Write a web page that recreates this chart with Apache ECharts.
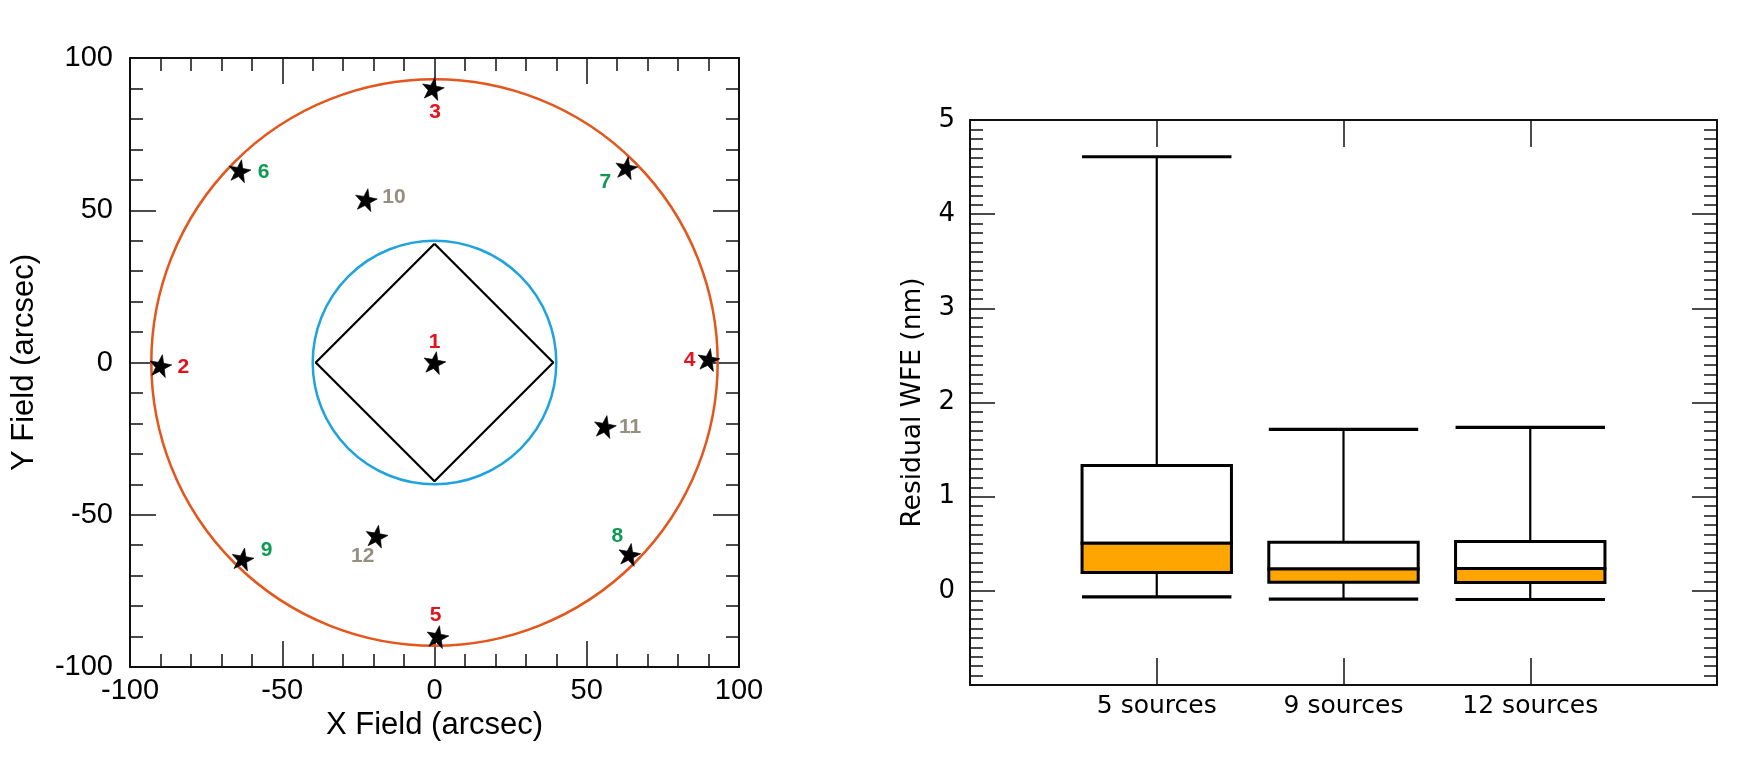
<!DOCTYPE html>
<html>
<head>
<meta charset="utf-8">
<script src="https://cdn.jsdelivr.net/npm/echarts@6/dist/echarts.min.js"></script>
<style>
html,body{margin:0;padding:0;background:#fff;}
#c{width:1748px;height:766px;}
</style>
</head>
<body>
<div id="c"></div>
<script>
// ---- Left panel data: source positions (arcsec) ----
const sourceIds = ['1','2','3','4','5','6','7','8','9','10','11','12'];
const sourceX = [0, -90, -0.5, 90, 1, -64, 63, 64, -63, -22.5, 56, -19];
const sourceY = [0, -1, 90, 1, -90, 63, 64, -63, -64.5, 53.5, -21, -57];
const circleRadii = [93, 40];           // outer (orange), inner (blue)
const diamondX = [0, 39, 0, -39, 0];
const diamondY = [39, 0, -39, 0, 39];
const fieldTicks = [-100, -50, 0, 50, 100];

// ---- Right panel data: residual WFE box plots (nm) ----
const categories = ['5 sources', '9 sources', '12 sources'];
const whiskerLow = [-0.064, -0.088, -0.092];
const q1 = [0.194, 0.092, 0.088];
const median = [0.505, 0.233, 0.237];
const q3 = [1.33, 0.516, 0.523];
const whiskerHigh = [4.61, 1.715, 1.736];
const wfeTicks = [0, 1, 2, 3, 4, 5];

// ---- styles ----
const labelColors = ['#e3121c','#e3121c','#e3121c','#e3121c','#e3121c',
  '#0e9a50','#0e9a50','#0e9a50','#0e9a50','#948f80','#948f80','#948f80'];
const labelOffsets = [[0,-20],[23,2],[2,24],[-19,1],[-2,-21],[24,2],[-21,15],[-12,-18],[24,-9],[28,-2],[25,1],[-14,20]];
const circleColors = ['#e4561c', '#1ea3de'];
const starPath = 'path://M0,-10 L2.351,-3.236 L9.511,-3.090 L3.804,1.236 L5.878,8.090 L0,4 L-5.878,8.090 L-3.804,1.236 L-9.511,-3.090 L-2.351,-3.236 Z';

const chart = echarts.init(document.getElementById('c'), null, {renderer: 'canvas'});

const leftFont = 'Liberation Sans, Arial, sans-serif';
const rightFont = 'DejaVu Sans, sans-serif';
const frameLine = {show: true, onZero: false, lineStyle: {color: '#111', width: 2}};

function fieldAxis(extra) {
  return Object.assign({
    type: 'value', min: -100, max: 100, interval: 50,
    axisLine: frameLine,
    axisTick: {show: true, inside: true, length: 26, lineStyle: {color: '#111', width: 1.5}},
    minorTick: {show: true, splitNumber: 5, length: 13, lineStyle: {color: '#111', width: 1.5}},
    splitLine: {show: false}, minorSplitLine: {show: false},
  }, extra);
}

function wfeAxis(extra) {
  return Object.assign({
    type: 'value', min: -1, max: 5, interval: 1,
    axisLine: frameLine,
    axisTick: {show: true, inside: true, length: 25, lineStyle: {color: '#111', width: 1.5}},
    minorTick: {show: true, splitNumber: 10, length: 13, lineStyle: {color: '#111', width: 1.5}},
    splitLine: {show: false}, minorSplitLine: {show: false},
  }, extra);
}

const catData = [''].concat(categories).concat(['']);

function catAxis(extra) {
  return Object.assign({
    type: 'category', data: catData, boundaryGap: false,
    axisLine: frameLine,
    axisTick: {show: true, inside: true, length: 27, interval: 0, lineStyle: {color: '#111', width: 1.5}},
    splitLine: {show: false},
  }, extra);
}

const starData = sourceIds.map((id, i) => ({
  name: id,
  value: [sourceX[i], sourceY[i]],
  label: {offset: labelOffsets[i], color: labelColors[i]}
}));

const boxData = categories.map((c, i) => [i + 1, whiskerLow[i], q1[i], median[i], q3[i], whiskerHigh[i]]);

const option = {
  animation: false,
  backgroundColor: '#fff',
  grid: [
    {left: 130, top: 58, width: 609, height: 609},
    {left: 970, top: 120, width: 747, height: 565}
  ],
  xAxis: [
    fieldAxis({gridIndex: 0, position: 'bottom',
      name: 'X Field (arcsec)', nameLocation: 'middle', nameGap: 38,
      nameTextStyle: {fontFamily: leftFont, fontSize: 31, color: '#000'},
      axisLabel: {show: true, margin: 9, fontFamily: leftFont, fontSize: 29, color: '#000',
        customValues: fieldTicks, formatter: v => String(v)}}),
    fieldAxis({gridIndex: 0, position: 'top', axisLabel: {show: false}}),
    catAxis({gridIndex: 1, position: 'bottom',
      axisLabel: {show: true, interval: 0, margin: 9, fontFamily: rightFont, fontSize: 25, color: '#000'}}),
    catAxis({gridIndex: 1, position: 'top', axisLabel: {show: false}})
  ],
  yAxis: [
    fieldAxis({gridIndex: 0, position: 'left',
      name: 'Y Field (arcsec)', nameLocation: 'middle', nameGap: 90,
      nameTextStyle: {fontFamily: leftFont, fontSize: 31, color: '#000'},
      axisLabel: {show: true, margin: 17, fontFamily: leftFont, fontSize: 29, color: '#000'}}),
    fieldAxis({gridIndex: 0, position: 'right', axisLabel: {show: false}}),
    wfeAxis({gridIndex: 1, position: 'left',
      name: 'Residual WFE (nm)', nameLocation: 'middle', nameGap: 43,
      nameTextStyle: {fontFamily: rightFont, fontSize: 26.5, color: '#000'},
      axisLabel: {show: true, margin: 15, fontFamily: rightFont, fontSize: 26, color: '#000',
        formatter: v => (wfeTicks.indexOf(v) >= 0 ? String(v) : '')}}),
    wfeAxis({gridIndex: 1, position: 'right', axisLabel: {show: false}})
  ],
  series: [
    {
      type: 'custom', xAxisIndex: 0, yAxisIndex: 0, silent: true,
      data: circleRadii.map((r, i) => [0, 0, r, i]),
      encode: {x: 0, y: 1},
      renderItem: function (params, api) {
        const c = api.coord([api.value(0), api.value(1)]);
        const s = api.size([api.value(2), api.value(2)]);
        return {
          type: 'circle',
          shape: {cx: c[0], cy: c[1], r: (s[0] + s[1]) / 2},
          style: {fill: 'none', stroke: circleColors[api.value(3)], lineWidth: 2.5}
        };
      }
    },
    {
      type: 'line', xAxisIndex: 0, yAxisIndex: 0, silent: true,
      data: diamondX.map((x, i) => [x, diamondY[i]]),
      symbol: 'none',
      lineStyle: {color: '#000', width: 2.2}
    },
    {
      type: 'scatter', xAxisIndex: 0, yAxisIndex: 0, silent: true,
      data: starData,
      symbol: starPath, symbolSize: 22, symbolRotate: -10,
      itemStyle: {color: '#000', borderColor: '#000', borderWidth: 0.6, opacity: 1},
      label: {show: true, position: 'inside', formatter: '{b}',
        fontFamily: leftFont, fontWeight: 'bold', fontSize: 21}
    },
    {
      type: 'custom', xAxisIndex: 2, yAxisIndex: 2, silent: true,
      data: boxData,
      encode: {x: 0, y: [1, 2, 3, 4, 5]},
      renderItem: function (params, api) {
        const x = api.value(0);
        const lo = api.coord([x, api.value(1)]);
        const p1 = api.coord([x, api.value(2)]);
        const pm = api.coord([x, api.value(3)]);
        const p3 = api.coord([x, api.value(4)]);
        const hi = api.coord([x, api.value(5)]);
        const hw = api.size([1, 0])[0] * 0.4;
        const cx = lo[0];
        return {
          type: 'group',
          children: [
            {type: 'line', shape: {x1: cx, y1: hi[1], x2: cx, y2: p3[1]}, style: {stroke: '#000', lineWidth: 2.2}},
            {type: 'line', shape: {x1: cx, y1: p1[1], x2: cx, y2: lo[1]}, style: {stroke: '#000', lineWidth: 2.2}},
            {type: 'line', shape: {x1: cx - hw, y1: hi[1], x2: cx + hw, y2: hi[1]}, style: {stroke: '#000', lineWidth: 3.2}},
            {type: 'line', shape: {x1: cx - hw, y1: lo[1], x2: cx + hw, y2: lo[1]}, style: {stroke: '#000', lineWidth: 3.2}},
            {type: 'rect', shape: {x: cx - hw, y: p3[1], width: 2 * hw, height: pm[1] - p3[1]},
              style: {fill: '#fff', stroke: '#000', lineWidth: 3}},
            {type: 'rect', shape: {x: cx - hw, y: pm[1], width: 2 * hw, height: p1[1] - pm[1]},
              style: {fill: '#ffa500', stroke: '#000', lineWidth: 3}}
          ]
        };
      }
    }
  ]
};

chart.setOption(option);
</script>
</body>
</html>
